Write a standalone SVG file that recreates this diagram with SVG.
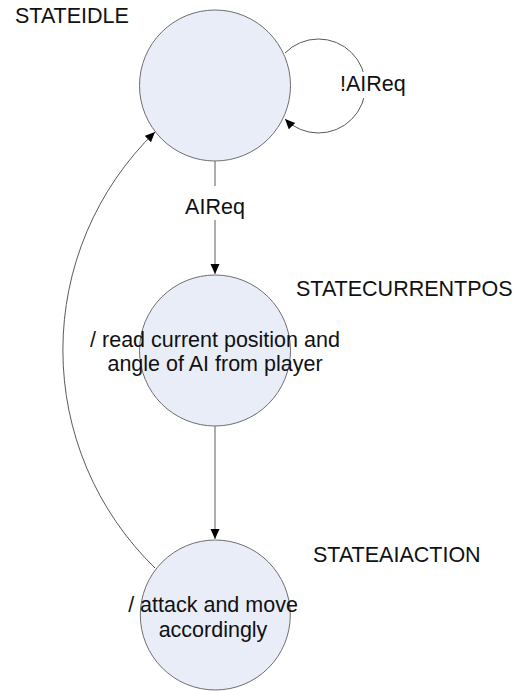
<svg xmlns="http://www.w3.org/2000/svg" width="513" height="691" viewBox="0 0 513 691">
  <defs>
    <marker id="arrow" markerUnits="userSpaceOnUse" markerWidth="11" markerHeight="10" refX="10" refY="4.5" orient="auto">
      <path d="M0,0 L10,4.5 L0,9 Z" fill="#000"/>
    </marker>
  </defs>
  <style>
    .state { fill: #e8edf7; stroke: #6e6e6e; stroke-width: 1; }
    .edge { fill: none; stroke: #5a5a5a; stroke-width: 1; }
    .lbl { font-family: "Liberation Sans", Arial, sans-serif; font-size: 21.5px; fill: #111; }
    .mid { text-anchor: middle; }
    .bg { fill: #fff; }
  </style>
  <rect width="513" height="691" fill="#fff"/>

  <!-- transitions -->
  <g id="connectors">
    <!-- idle self loop: !AIReq -->
    <path class="edge" d="M285,53 A47,47 0 1 1 285,119" marker-end="url(#arrow)"/>
    <rect class="bg" x="339" y="72" width="66" height="26"/>
    <text class="lbl" x="340" y="91">!AIReq</text>
    <!-- idle -> current pos: AIReq -->
    <path class="edge" d="M215,161 L215,274" marker-end="url(#arrow)"/>
    <rect class="bg" x="184" y="186" width="62" height="34"/>
    <text class="lbl mid" x="215" y="214">AIReq</text>
    <!-- current pos -> ai action -->
    <path class="edge" d="M215,426 L215,539" marker-end="url(#arrow)"/>
    <!-- ai action -> idle -->
    <path class="edge" d="M155,568 A304,304 0 0 1 155,132" marker-end="url(#arrow)"/>
  </g>

  <g id="stateIdle">
    <circle class="state" cx="215" cy="85.5" r="75.5"/>
    <text class="lbl" x="15" y="23">STATEIDLE</text>
  </g>

  <g id="stateCurrentPos">
    <circle class="state" cx="215" cy="350.5" r="75.5"/>
    <text class="lbl" x="296" y="296">STATECURRENTPOS</text>
    <text class="lbl mid" x="215" y="347">/ read current position and</text>
    <text class="lbl mid" x="215" y="371">angle of AI from player</text>
  </g>

  <g id="stateAiAction">
    <circle class="state" cx="215.3" cy="615" r="75"/>
    <text class="lbl" x="313" y="562">STATEAIACTION</text>
    <text class="lbl mid" x="213" y="612">/ attack and move</text>
    <text class="lbl mid" x="213" y="637">accordingly</text>
  </g>
</svg>
